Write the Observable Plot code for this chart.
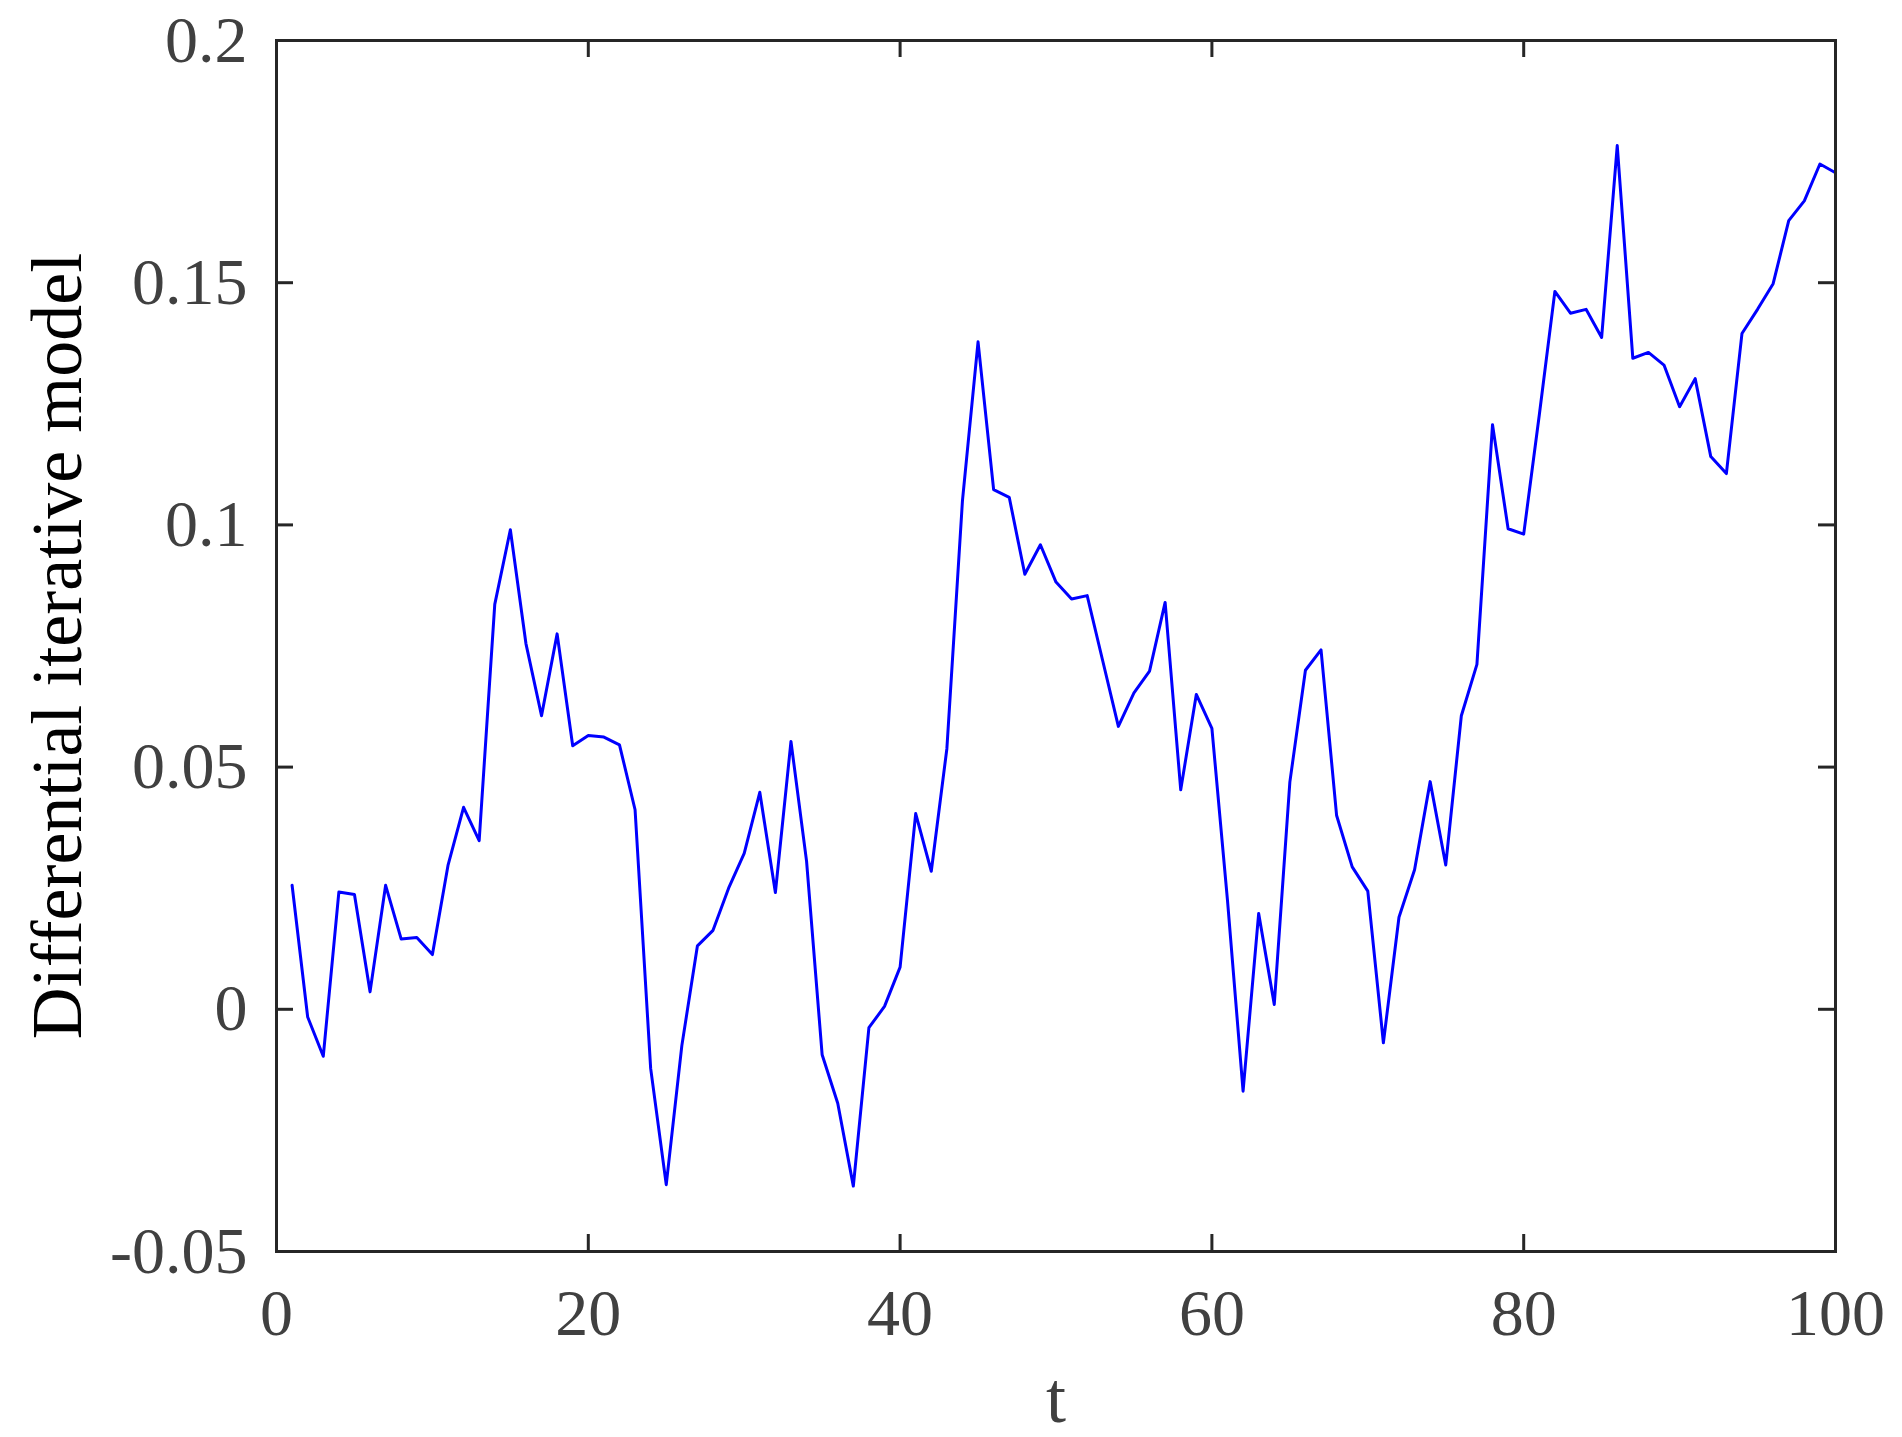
<!DOCTYPE html>
<html>
<head>
<meta charset="utf-8">
<script src="https://cdn.jsdelivr.net/npm/d3@7"></script>
<script src="https://cdn.jsdelivr.net/npm/@observablehq/plot@0.6"></script>
<style>
  html, body { margin: 0; padding: 0; background: #fff; }
  #chart svg { display: block; }
</style>
</head>
<body>
<div id="chart"></div>
<script>
const tValues = d3.range(1, 101);
const modelValues = [
  0.0256, -0.0016, -0.0097, 0.0242, 0.0237, 0.0036, 0.0256, 0.0145, 0.0148, 0.0113,
  0.0297, 0.0417, 0.0348, 0.0836, 0.0990, 0.0755, 0.0606, 0.0775, 0.0544, 0.0565,
  0.0562, 0.0546, 0.0412, -0.0122, -0.0362, -0.0075, 0.0131, 0.0163, 0.0250, 0.0322,
  0.0448, 0.0241, 0.0553, 0.0306, -0.0094, -0.0194, -0.0365, -0.0038, 0.0006, 0.0087,
  0.0404, 0.0285, 0.0538, 0.1050, 0.1378, 0.1073, 0.1057, 0.0898, 0.0959, 0.0882,
  0.0847, 0.0854, 0.0719, 0.0584, 0.0653, 0.0698, 0.0840, 0.0453, 0.0650, 0.0580,
  0.0225, -0.0169, 0.0198, 0.0010, 0.0469, 0.0700, 0.0742, 0.0400, 0.0294, 0.0244,
  -0.0069, 0.0190, 0.0288, 0.0470, 0.0298, 0.0606, 0.0712, 0.1207, 0.0992, 0.0981,
  0.1227, 0.1482, 0.1437, 0.1445, 0.1387, 0.1783, 0.1344, 0.1356, 0.1330, 0.1244,
  0.1302, 0.1141, 0.1106, 0.1395, 0.1445, 0.1498, 0.1628, 0.1669, 0.1745, 0.1727
];
const xTicks = [0, 20, 40, 60, 80, 100];
const yTicks = [-0.05, 0, 0.05, 0.1, 0.15, 0.2];
const xLabel = "t";
const yLabel = "Differential iterative model";

const data = tValues.map((t, i) => ({t, v: modelValues[i]}));

const W = 1902, H = 1437;
const mL = 276, mR = 67, mT = 40, mB = 186;
const innerW = W - mL - mR, innerH = H - mT - mB;
const tickLen = 17;
const font = "'Liberation Serif', 'Times New Roman', serif";

const chart = Plot.plot({
  width: W,
  height: H,
  marginLeft: mL,
  marginRight: mR,
  marginTop: mT,
  marginBottom: mB,
  style: {fontFamily: font, background: "#fff"},
  x: {domain: [0, 100], label: null},
  y: {domain: [-0.05, 0.2], label: null},
  marks: [
    Plot.axisX({ticks: xTicks, tickSize: 0, tickPadding: 37, fontSize: 66, fill: "#404040", tickFormat: d => String(d), label: null}),
    Plot.axisY({ticks: yTicks, tickSize: 0, tickPadding: 29, fontSize: 66, fill: "#404040", tickFormat: d => String(d), label: null}),
    Plot.line(data, {x: "t", y: "v", stroke: "#0000ff", strokeWidth: 3}),
    Plot.ruleX(xTicks, {x: d => d, insetTop: innerH - tickLen, stroke: "#262626", strokeWidth: 3}),
    Plot.ruleX(xTicks, {x: d => d, insetBottom: innerH - tickLen, stroke: "#262626", strokeWidth: 3}),
    Plot.ruleY(yTicks, {y: d => d, insetRight: innerW - tickLen, stroke: "#262626", strokeWidth: 3}),
    Plot.ruleY(yTicks, {y: d => d, insetLeft: innerW - tickLen, stroke: "#262626", strokeWidth: 3}),
    Plot.frame({stroke: "#262626", strokeWidth: 3}),
    Plot.text([xLabel], {frameAnchor: "bottom", dy: 170, textAnchor: "middle", lineAnchor: "bottom", fontSize: 72, fill: "#404040", fontFamily: font}),
    Plot.text([yLabel], {frameAnchor: "left", dx: -196, rotate: -90, textAnchor: "middle", lineAnchor: "bottom", fontSize: 72, fill: "#000", fontFamily: font})
  ]
});
document.getElementById("chart").appendChild(chart);
</script>
</body>
</html>
